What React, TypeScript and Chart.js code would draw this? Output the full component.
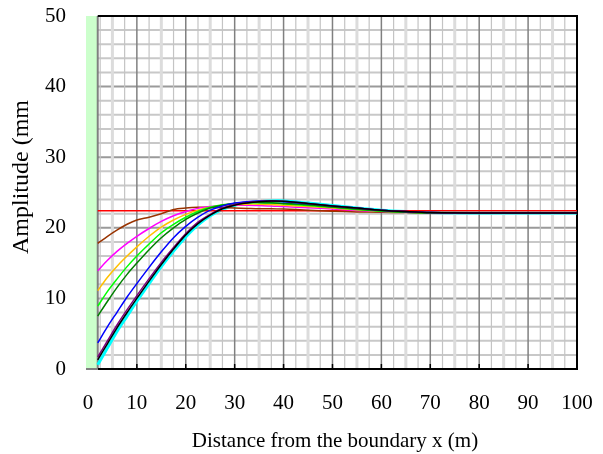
import React, { useEffect, useRef } from "react";
import { Chart, registerables } from "chart.js";

Chart.register(...registerables);

const X = [2, 4, 6, 8, 10, 12.5, 15, 17.5, 20, 22.5, 25, 27.5, 30, 32.5, 35, 37.5, 40, 45, 50, 55, 60, 65, 70, 80, 90, 100];

const RED = [22.4, 22.4, 22.4, 22.4, 22.4, 22.4, 22.4, 22.4, 22.4, 22.4, 22.4, 22.4, 22.4, 22.4, 22.4, 22.4, 22.4, 22.4, 22.4, 22.4, 22.4, 22.4, 22.4, 22.4, 22.4, 22.4];
const BROWN = [17.8, 18.8, 19.7, 20.5, 21.1, 21.5, 22.0, 22.6, 22.8, 22.9, 22.9, 22.85, 22.8, 22.75, 22.7, 22.7, 22.65, 22.5, 22.35, 22.25, 22.2, 22.15, 22.1, 22.1, 22.1, 22.1];
const MAGENTA = [13.9, 15.4, 16.7, 17.8, 18.8, 19.9, 20.9, 21.7, 22.3, 22.75, 23.0, 23.15, 23.2, 23.2, 23.15, 23.1, 23.0, 22.85, 22.65, 22.45, 22.3, 22.2, 22.1, 22.1, 22.1, 22.1];
const ORANGE = [11.1, 13.0, 14.6, 16.0, 17.3, 18.8, 20.1, 21.1, 21.9, 22.5, 22.9, 23.15, 23.3, 23.35, 23.35, 23.3, 23.2, 23.0, 22.8, 22.55, 22.35, 22.2, 22.1, 22.1, 22.1, 22.1];
const LIME = [8.9, 11.0, 12.8, 14.5, 16.0, 17.7, 19.3, 20.5, 21.5, 22.3, 22.9, 23.25, 23.45, 23.55, 23.55, 23.5, 23.4, 23.15, 22.9, 22.6, 22.35, 22.2, 22.1, 22.1, 22.1, 22.1];
const DKGREEN = [7.5, 9.6, 11.6, 13.4, 15.0, 16.9, 18.6, 20.0, 21.2, 22.1, 22.8, 23.2, 23.45, 23.6, 23.6, 23.55, 23.45, 23.25, 22.95, 22.65, 22.4, 22.2, 22.1, 22.1, 22.1, 22.1];
const BLUE = [3.7, 6.0, 8.1, 10.2, 12.1, 14.4, 16.6, 18.6, 20.2, 21.5, 22.5, 23.1, 23.5, 23.7, 23.8, 23.8, 23.7, 23.4, 23.1, 22.8, 22.5, 22.3, 22.15, 22.1, 22.1, 22.1];
const PURPLE = [1.7, 4.0, 6.3, 8.4, 10.4, 12.8, 15.1, 17.2, 19.2, 20.8, 21.9, 22.8, 23.3, 23.55, 23.75, 23.8, 23.75, 23.45, 23.1, 22.8, 22.5, 22.3, 22.15, 22.1, 22.1, 22.1];
const BLACK = [1.3, 3.6, 5.9, 8.0, 10.0, 12.45, 14.8, 17.0, 19.0, 20.6, 21.8, 22.7, 23.2, 23.5, 23.7, 23.8, 23.75, 23.45, 23.1, 22.8, 22.5, 22.3, 22.15, 22.1, 22.1, 22.1];
const CYAN = [0.6, 3.0, 5.4, 7.5, 9.6, 12.1, 14.5, 16.7, 18.7, 20.4, 21.7, 22.6, 23.2, 23.5, 23.7, 23.8, 23.8, 23.5, 23.15, 22.8, 22.5, 22.3, 22.15, 22.1, 22.1, 22.1];

const X_TICKS = [0, 10, 20, 30, 40, 50, 60, 70, 80, 90, 100];
const X_TITLE = "Distance from the boundary x (m)";
const Y_TITLE = "Amplitude (mm";

const FONT = "'Liberation Serif', 'Times New Roman', serif";

const series = [
  { data: BLACK, color: "#000000", width: 1.5 },
  { data: PURPLE, color: "#800080", width: 1.5 },
  { data: BLUE, color: "#0000ff", width: 1.5 },
  { data: DKGREEN, color: "#008000", width: 1.5 },
  { data: LIME, color: "#00ff00", width: 1.5 },
  { data: ORANGE, color: "#ffc000", width: 1.5 },
  { data: MAGENTA, color: "#ff00ff", width: 1.5 },
  { data: BROWN, color: "#993300", width: 1.5 },
  { data: RED, color: "#ff0000", width: 1.5 },
  { data: CYAN, color: "#00ffff", width: 3 },
];

const backgroundPlugin = {
  id: "bgGrid",
  beforeDatasetsDraw(chart: any) {
    const { ctx, chartArea, scales } = chart;
    const xs = scales.x;
    const ys = scales.y;
    const top = chartArea.top;
    const bottom = chartArea.bottom;
    const x2 = xs.getPixelForValue(2);
    const x100 = xs.getPixelForValue(100);
    ctx.save();
    ctx.fillStyle = "#ccffcc";
    ctx.fillRect(chartArea.left, top, x2 - chartArea.left, bottom - top);
    for (let v = 2; v < 50; v += 2) {
      const y = ys.getPixelForValue(v);
      ctx.beginPath();
      ctx.strokeStyle = v % 10 === 0 ? "#9a9a9a" : "#c8c8c8";
      ctx.lineWidth = 2;
      ctx.moveTo(x2, y);
      ctx.lineTo(x100, y);
      ctx.stroke();
    }
    for (let v = 2.5; v < 100; v += 2.5) {
      const x = xs.getPixelForValue(v);
      ctx.beginPath();
      if (v % 10 === 0) {
        ctx.strokeStyle = "#808080";
        ctx.lineWidth = 1.5;
      } else if (v % 5 === 0) {
        ctx.strokeStyle = "#dcdcdc";
        ctx.lineWidth = 3;
      } else {
        ctx.strokeStyle = "#c4c4c4";
        ctx.lineWidth = 1.2;
      }
      ctx.moveTo(x, top);
      ctx.lineTo(x, bottom);
      ctx.stroke();
    }
    ctx.beginPath();
    ctx.strokeStyle = "#808080";
    ctx.lineWidth = 2;
    ctx.moveTo(x2, top);
    ctx.lineTo(x2, bottom);
    ctx.stroke();
    ctx.beginPath();
    ctx.strokeStyle = "#000000";
    ctx.lineWidth = 2;
    ctx.moveTo(x2, top);
    ctx.lineTo(x100, top);
    ctx.lineTo(x100, bottom);
    ctx.lineTo(x2, bottom);
    ctx.stroke();
    ctx.beginPath();
    ctx.strokeStyle = "#808080";
    ctx.moveTo(chartArea.left, bottom);
    ctx.lineTo(x2, bottom);
    ctx.stroke();
    ctx.beginPath();
    ctx.strokeStyle = "#000000";
    ctx.lineWidth = 1.5;
    for (let v = 10; v < 100; v += 10) {
      const x = xs.getPixelForValue(v);
      ctx.moveTo(x, bottom);
      ctx.lineTo(x, bottom - 5);
    }
    ctx.stroke();
    ctx.restore();
  },
  afterDraw(chart: any) {
    const { ctx } = chart;
    ctx.save();
    ctx.fillStyle = "#000000";
    ctx.textAlign = "center";
    ctx.textBaseline = "middle";
    ctx.font = `21px ${FONT}`;
    ctx.fillText(X_TITLE, 335, 441);
    ctx.translate(22, 177);
    ctx.rotate(-Math.PI / 2);
    ctx.font = `24px ${FONT}`;
    ctx.fillText(Y_TITLE, 0, 0);
    ctx.restore();
  },
};

export default function App() {
  const ref = useRef<HTMLCanvasElement | null>(null);
  useEffect(() => {
    document.body.style.margin = "0";
    const canvas = ref.current;
    if (!canvas) return;
    const chart = new Chart(canvas, {
      type: "line",
      data: {
        datasets: series.map((s) => ({
          data: X.map((x, i) => ({ x, y: s.data[i] })),
          borderColor: s.color,
          backgroundColor: s.color,
          borderWidth: s.width,
          pointRadius: 0,
          tension: 0.3,
          fill: false,
        })),
      },
      options: {
        animation: false,
        responsive: false,
        events: [],
        layout: { padding: { top: 16, right: 26, left: 0, bottom: 0 } },
        plugins: { legend: { display: false }, tooltip: { enabled: false } },
        scales: {
          x: {
            type: "linear",
            min: -0.4,
            max: 100,
            afterBuildTicks: (scale: any) => {
              scale.ticks = X_TICKS.map((v) => ({ value: v }));
            },
            afterFit: (scale: any) => {
              scale.height = 85;
              scale.paddingLeft = 0;
              scale.paddingRight = 0;
            },
            grid: { display: false, drawTicks: false },
            border: { display: false },
            ticks: {
              autoSkip: false,
              maxRotation: 0,
              padding: 22,
              color: "#000000",
              font: { family: FONT, size: 21 },
              callback: (v: any) => String(v),
            },
          },
          y: {
            type: "linear",
            min: 0,
            max: 50,
            afterFit: (scale: any) => {
              scale.width = 86;
              scale.paddingTop = 0;
              scale.paddingBottom = 0;
            },
            grid: { display: false, drawTicks: false },
            border: { display: false },
            ticks: {
              stepSize: 10,
              padding: 20,
              color: "#000000",
              font: { family: FONT, size: 21 },
            },
          },
        },
      },
      plugins: [backgroundPlugin],
    });
    return () => chart.destroy();
  }, []);
  return (
    <div style={{ width: 603, height: 454 }}>
      <canvas ref={ref} width={603} height={454} />
    </div>
  );
}
